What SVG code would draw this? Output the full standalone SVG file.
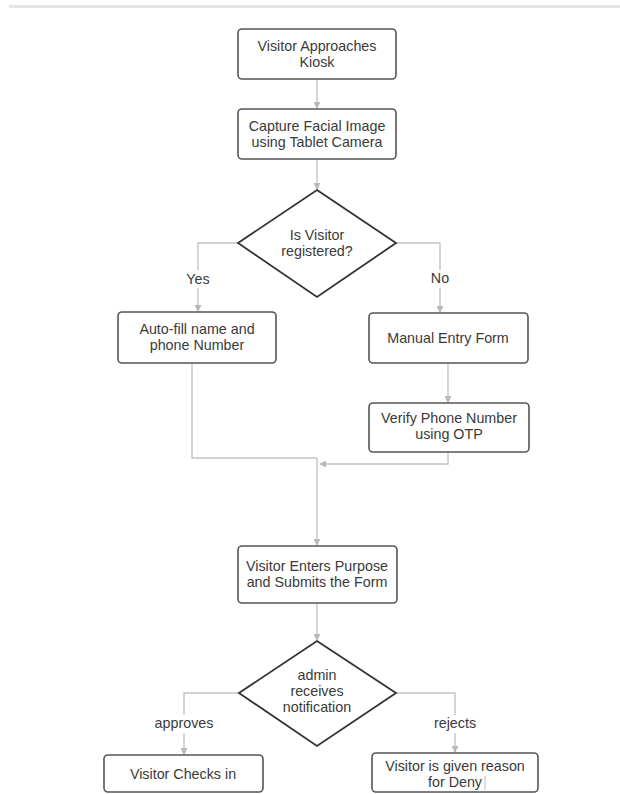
<svg xmlns="http://www.w3.org/2000/svg" width="620" height="794" viewBox="0 0 620 794">
<defs>
<marker id="arr" viewBox="0 0 8 8" refX="7" refY="4" markerWidth="7" markerHeight="7" markerUnits="userSpaceOnUse" orient="auto">
<path d="M0,0 L8,4 L0,8 Z" fill="#b8b8b8"/>
</marker>
<style>
.box{fill:#fff;stroke:#555;stroke-width:1.6}
.dia{fill:#fff;stroke:#333;stroke-width:1.8}
.t{font-family:"Liberation Sans",Arial,sans-serif;font-size:14.3px;fill:#3a3a3a;text-anchor:middle}
.c{fill:none;stroke:#c4c4c4;stroke-width:1.4}
.ca{fill:none;stroke:#c4c4c4;stroke-width:1.4;marker-end:url(#arr)}
.lb{fill:#fff}
</style>
</defs>
<rect width="620" height="794" fill="#fff"/>
<line x1="9" y1="6.5" x2="620" y2="6.5" stroke="#e6e6e6" stroke-width="3"/>
<g id="connectors">
<path class="ca" d="M317,79 V108"/>
<path class="ca" d="M317,159 V189"/>
<path class="ca" d="M238,243 H198 V311"/>
<path class="ca" d="M396,243 H440 V312"/>
<path class="ca" d="M448,363 V402"/>
<path class="c" d="M192,363 V458 H317"/>
<path class="ca" d="M448,452 V464 H320"/>
<path class="ca" d="M317,458 V545"/>
<path class="ca" d="M317,603 V640"/>
<path class="ca" d="M239,693 H184 V754"/>
<path class="ca" d="M396,693 H455 V752"/>
<rect class="lb" x="184" y="270" width="28" height="18"/>
<text class="t" x="198" y="284">Yes</text>
<rect class="lb" x="429" y="270" width="22" height="18"/>
<text class="t" x="440" y="283">No</text>
<rect class="lb" x="153" y="715" width="62" height="18"/>
<text class="t" x="184" y="728">approves</text>
<rect class="lb" x="431" y="715" width="48" height="18"/>
<text class="t" x="455" y="728">rejects</text>
</g>
<g id="n1">
<rect class="box" x="238" y="29" width="158" height="50" rx="4"/>
<text class="t" x="317" y="51">Visitor Approaches</text>
<text class="t" x="317" y="67">Kiosk</text>
</g>
<g id="n2">
<rect class="box" x="238" y="109" width="158" height="50" rx="4"/>
<text class="t" x="317" y="131">Capture Facial Image</text>
<text class="t" x="317" y="147">using Tablet Camera</text>
</g>
<g id="n3">
<polygon class="dia" points="317,190 396,243 317,297 238,243"/>
<text class="t" x="317" y="240">Is Visitor</text>
<text class="t" x="317" y="256">registered?</text>
</g>
<g id="n4">
<rect class="box" x="118" y="312" width="158" height="51" rx="4"/>
<text class="t" x="197" y="334">Auto-fill name and</text>
<text class="t" x="197" y="350">phone Number</text>
</g>
<g id="n5">
<rect class="box" x="369" y="313" width="159" height="50" rx="4"/>
<text class="t" x="448" y="343">Manual Entry Form</text>
</g>
<g id="n6">
<rect class="box" x="369" y="403" width="160" height="49" rx="4"/>
<text class="t" x="449" y="423">Verify Phone Number</text>
<text class="t" x="449" y="439">using OTP</text>
</g>
<g id="n7">
<rect class="box" x="238" y="546" width="159" height="57" rx="4"/>
<text class="t" x="317" y="571">Visitor Enters Purpose</text>
<text class="t" x="317" y="587">and Submits the Form</text>
</g>
<g id="n8">
<polygon class="dia" points="317,641 396,693 317,746 239,693"/>
<text class="t" x="317" y="680">admin</text>
<text class="t" x="317" y="696">receives</text>
<text class="t" x="317" y="712">notification</text>
</g>
<g id="n9">
<rect class="box" x="104" y="755" width="159" height="37" rx="4"/>
<text class="t" x="183" y="779">Visitor Checks in</text>
</g>
<g id="n10">
<rect class="box" x="372" y="753" width="166" height="39" rx="4"/>
<text class="t" x="455" y="771">Visitor is given reason</text>
<text class="t" x="455" y="787">for Deny</text>
<line x1="485" y1="776" x2="485" y2="790" stroke="#bbb" stroke-width="1"/>
</g>
</svg>
